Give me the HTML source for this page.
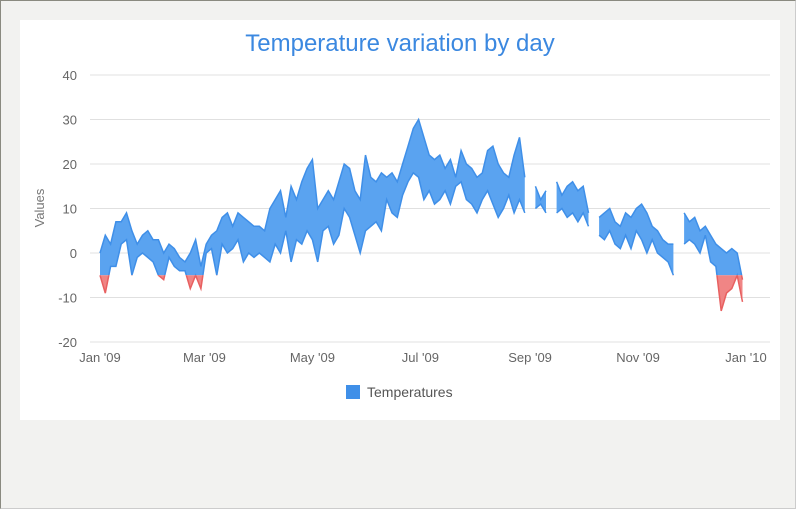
<!DOCTYPE html>
<html><head><meta charset="utf-8"><style>
body{margin:0;width:796px;height:509px;background:#f2f2f0;overflow:hidden;font-family:"Liberation Sans",sans-serif}
#frame{position:absolute;left:0;top:0;width:794px;height:507px;border:1px solid #8a8a80;border-right-color:#ccc;border-bottom-color:#ccc}
svg{position:absolute;left:0;top:0}
</style></head><body>
<div id="frame"></div>
<svg id="chart" width="796" height="509">
<rect x="20" y="20" width="760" height="400" fill="#fff"/>
<text x="400" y="51" text-anchor="middle" font-size="24" fill="#3b88e0">Temperature variation by day</text>
<text transform="translate(44,208) rotate(-90)" text-anchor="middle" font-size="13" fill="#777">Values</text>
<g id="grid"></g><g id="series"></g><g id="xlabels"></g>
<rect x="346" y="385" width="14" height="14" fill="#3f8fe8"/>
<text x="367" y="397" font-size="14" fill="#555">Temperatures</text>
</svg>
<script>
const yTicks=[-20,-10,0,10,20,30,40];
const xTickLabels=["Jan '09","Mar '09","May '09","Jul '09","Sep '09","Nov '09","Jan '10"];
const xTickDays=[0,59,120,181,243,304,365];
const threshold=-5;
const stepDays=3;
const highs=[0,4,2,7,7,9,5,2,4,5,3, 3,0,2,1,-1,-2,0,3,-3, 2,4,5,8,9,6,9,8,7,6, 6,5,10,12,14,8,15,12,16,19, 21,10,12,14,12,16,20,19,14,12, 22,17,16,18,17,18,16,20,24,28, 30,26,22,21,22,19,21,17,23,20, 19,17,18,23,24,20,18,17,22,26,17, null, 15,12,14, null, 16,13,15,16,14,15,9, null, 8,9,10,7,6,9,8,10,11,9, 6,5,3,2,2, null, 9,7,8,5,6,4,2,1,0,1,0,-6];
const lows=[-5,-9,-3,-3,2,3,-5,-1,0,-1,-2, -5,-6,-1,-3,-4,-4,-8,-5,-8, 0,1,-5,2,0,1,3,-2,0,-1, 0,-1,-2,2,0,5,-2,3,2,5, 3,-2,5,6,2,4,10,8,4,0, 5,6,7,5,12,9,8,13,16,18, 17,12,14,11,12,14,11,15,16,12, 11,9,12,14,11,8,10,13,9,12,9, null, 10,11,9, null, 9,10,8,9,7,9,6, null, 4,3,5,2,1,4,1,5,3,0, 3,0,-1,-2,-5, null, 2,3,2,0,4,-2,-3,-13,-9,-8,-5,-11];
const NS="http://www.w3.org/2000/svg";
const x=d=>100+d*(646/365);
const y=v=>253-v*4.45;
const svg=document.getElementById('chart');
const grid=document.getElementById('grid');
yTicks.forEach(t=>{
 const l=document.createElementNS(NS,'line');
 l.setAttribute('x1',90);l.setAttribute('x2',770);l.setAttribute('y1',y(t));l.setAttribute('y2',y(t));
 l.setAttribute('stroke','#e0e0e0');
 
 
 grid.appendChild(l);
 const tx=document.createElementNS(NS,'text');
 tx.setAttribute('x',77);tx.setAttribute('y',y(t)+5);tx.setAttribute('text-anchor','end');
 tx.setAttribute('font-size','13');tx.setAttribute('fill','#666');tx.textContent=t;
 
 
 grid.appendChild(tx);
});
const xl=document.getElementById('xlabels');
xTickLabels.forEach((s,i)=>{
 const tx=document.createElementNS(NS,'text');
 tx.setAttribute('x',x(xTickDays[i]));tx.setAttribute('y',362);tx.setAttribute('text-anchor','middle');
 tx.setAttribute('font-size','13');tx.setAttribute('fill','#666');tx.textContent=s;
 
 
 xl.appendChild(tx);
});
// clip paths
const defs=document.createElementNS(NS,'defs');
defs.innerHTML='<clipPath id="above"><rect x="80" y="60" width="700" height="'+(y(threshold)-60)+'"/></clipPath><clipPath id="below"><rect x="80" y="'+y(threshold)+'" width="700" height="100"/></clipPath>';
svg.insertBefore(defs,svg.firstChild);
// segments
const segs=[];let cur=[];
highs.forEach((h,i)=>{
 if(h===null||lows[i]===null){if(cur.length)segs.push(cur);cur=[];}
 else cur.push(i);
});
if(cur.length)segs.push(cur);
const g=document.getElementById('series');
[['above','#5aa3f0','#3f8fe8'],['below','#f08585','#e86060']].forEach(([clip,fill,stroke])=>{
 const grp=document.createElementNS(NS,'g');
 grp.setAttribute('clip-path','url(#'+clip+')');
 
 
 segs.forEach(s=>{
  let top=s.map(i=>x(i*stepDays).toFixed(1)+','+y(highs[i]).toFixed(1));
  let bot=s.slice().reverse().map(i=>x(i*stepDays).toFixed(1)+','+y(lows[i]).toFixed(1));
  const p=document.createElementNS(NS,'path');
  p.setAttribute('d','M'+top.join('L')+'L'+bot.join('L')+'Z');
  p.setAttribute('fill',fill);
  
  
  grp.appendChild(p);
  [top,bot].forEach(pts=>{
   const l=document.createElementNS(NS,'path');
   l.setAttribute('d','M'+pts.join('L'));
   l.setAttribute('fill','none');l.setAttribute('stroke',stroke);l.setAttribute('stroke-width','1.5');
   
   
   grp.appendChild(l);
  });
 });
 g.appendChild(grp);
});
</script>
</body></html>
